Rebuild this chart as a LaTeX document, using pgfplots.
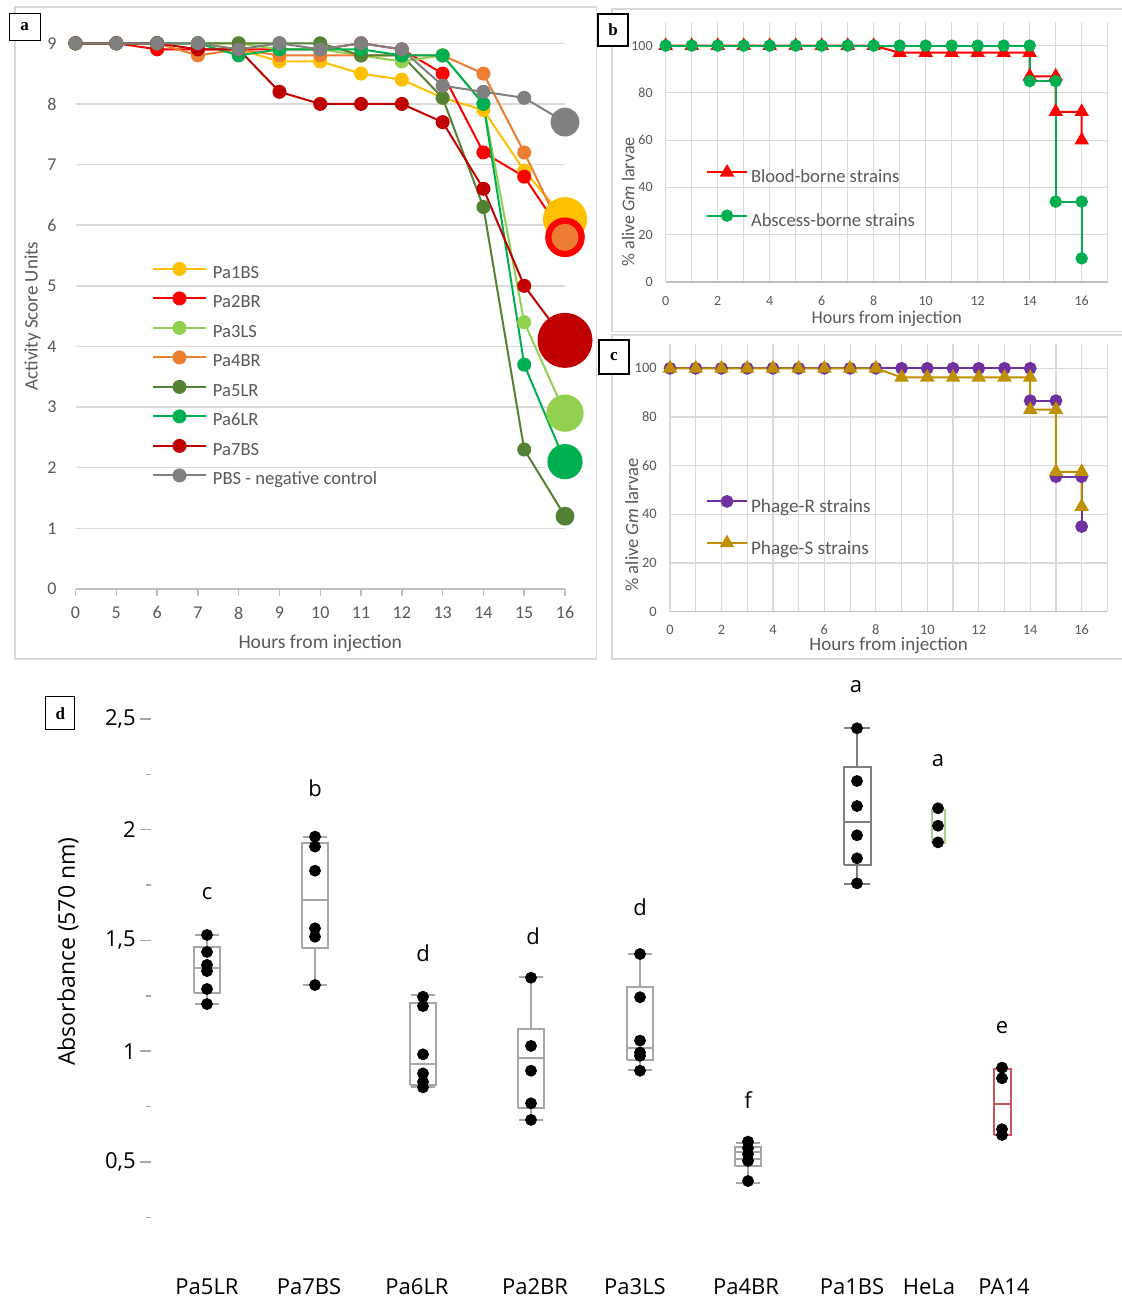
\documentclass[border=0pt]{standalone}
\usepackage{fontspec}
\usepackage{pgfplots}
\pgfplotsset{compat=1.18}
\setmainfont{Carlito}
\newfontfamily\dfont{Open Sans}
\newfontfamily\labfont{Liberation Serif}
\definecolor{cA1}{HTML}{FFC000}
\definecolor{cA2}{HTML}{FF0000}
\definecolor{cA3}{HTML}{92D050}
\definecolor{cA4}{HTML}{ED7D31}
\definecolor{cA5}{HTML}{548235}
\definecolor{cA6}{HTML}{00B050}
\definecolor{cA7}{HTML}{C00000}
\definecolor{cA8}{HTML}{808080}
\definecolor{cB1}{HTML}{FF0000}
\definecolor{cB2}{HTML}{00B050}
\definecolor{cC1}{HTML}{7030A0}
\definecolor{cC2}{HTML}{BF9000}
\definecolor{txt}{HTML}{595959}
\definecolor{gridc}{HTML}{D9D9D9}
\definecolor{axc}{HTML}{BFBFBF}
\definecolor{boxg}{HTML}{A6A6A6}
\definecolor{boxdg}{HTML}{7F7F7F}
\definecolor{boxgr}{HTML}{A9D18E}
\definecolor{boxr}{HTML}{C9545E}
\pgfplotsset{
  exstyle/.style={
    scale only axis,
    /pgf/number format/assume math mode=true,
    tick label style={text=txt},
    label style={text=txt},
    clip=false,
  },
}
\begin{document}
\begin{tikzpicture}
\useasboundingbox (0pt,0pt) rectangle (560.5pt,649.5pt);
\fill[white] (0pt,0pt) rectangle (560.5pt,649.5pt);
\draw[gridc, line width=0.75pt] (7.5pt,320pt) rectangle (298.3pt,646pt);
\draw[gridc, line width=0.75pt] (305.9pt,483.7pt) rectangle (565pt,645pt);
\draw[gridc, line width=0.75pt] (305.9pt,320pt) rectangle (565pt,482pt);

% ---------------- panel a ----------------
\begin{axis}[exstyle,
  at={(37.75pt,355pt)}, anchor=south west,
  width=244.75pt, height=272.85pt,
  xmin=0, xmax=12, ymin=0, ymax=9,
  axis x line=bottom, axis y line=left,
  x axis line style={axc, line width=0.75pt, -},
  y axis line style={draw=none},
  xtick={0,...,12}, xticklabels={0,5,6,7,8,9,10,11,12,13,14,15,16},
  ytick={0,...,9},
  ymajorgrids, grid style={gridc, line width=0.75pt},
  tick align=outside, major tick length=3.5pt,
  xtick style={axc, line width=0.75pt},
  ytick style={draw=none},
  tick label style={font=\fontsize{9}{10}\selectfont},
  xticklabel style={anchor=center, inner sep=0pt, yshift=-8.5pt},
  yticklabel style={anchor=east, inner sep=0pt, xshift=-5.75pt},
  xlabel={Hours from injection}, ylabel={Activity Score Units},
  xlabel style={at={(axis description cs:0.5,-0.0989)}, anchor=center, font=\fontsize{9.8}{11}\selectfont},
  ylabel style={at={(axis description cs:-0.0876,0.5)}, anchor=center, font=\fontsize{9.5}{11}\selectfont},
  legend cell align=left,
  legend style={at={(axis cs:1.875,5.423)}, anchor=north west, draw=none, fill=none,
    inner sep=0pt, outer sep=0pt, row sep=0pt, column sep=3pt,
    font=\fontsize{9.3}{10}\selectfont, text=txt,
    nodes={inner sep=0pt, text height=9pt, text depth=5.75pt}},
  legend image code/.code={\draw[mark repeat=2,mark phase=2,#1] plot coordinates {(0pt,3pt) (13.25pt,3pt) (26.5pt,3pt)};},
  every axis plot/.append style={line width=1pt, mark=*, mark size=3pt, mark options={solid}},
]
\addplot[color=cA1] coordinates {(0,9)(1,9)(2,9)(3,9)(4,8.9)(5,8.7)(6,8.7)(7,8.5)(8,8.4)(9,8.1)(10,7.9)(11,6.9)(12,6.1)};
\addplot[color=cA2] coordinates {(0,9)(1,9)(2,8.9)(3,8.9)(4,8.9)(5,8.9)(6,8.9)(7,9.0)(8,8.9)(9,8.5)(10,7.2)(11,6.8)(12,5.8)};
\addplot[color=cA3] coordinates {(0,9)(1,9)(2,9)(3,9)(4,9)(5,8.9)(6,8.9)(7,8.8)(8,8.7)(9,8.8)(10,8.0)(11,4.4)(12,2.9)};
\addplot[color=cA4] coordinates {(0,9)(1,9)(2,9)(3,8.8)(4,8.9)(5,8.8)(6,8.8)(7,8.8)(8,8.8)(9,8.8)(10,8.5)(11,7.2)(12,5.8)};
\addplot[color=cA5] coordinates {(0,9)(1,9)(2,9)(3,9)(4,9)(5,9)(6,9)(7,8.8)(8,8.8)(9,8.1)(10,6.3)(11,2.3)(12,1.2)};
\addplot[color=cA6] coordinates {(0,9)(1,9)(2,9)(3,9)(4,8.8)(5,8.9)(6,8.9)(7,8.9)(8,8.8)(9,8.8)(10,8.0)(11,3.7)(12,2.1)};
\addplot[color=cA7] coordinates {(0,9)(1,9)(2,9)(3,8.9)(4,8.9)(5,8.2)(6,8.0)(7,8.0)(8,8.0)(9,7.7)(10,6.6)(11,5.0)(12,4.1)};
\addplot[color=cA8] coordinates {(0,9)(1,9)(2,9)(3,9)(4,8.9)(5,9)(6,8.9)(7,9)(8,8.9)(9,8.3)(10,8.2)(11,8.1)(12,7.7)};
\legend{Pa1BS,Pa2BR,Pa3LS,Pa4BR,Pa5LR,Pa6LR,Pa7BS,PBS - negative control}
\addplot[forget plot, only marks, color=cA1, mark size=10.5pt] coordinates {(12,6.1)};
\addplot[forget plot, only marks, color=cA2, mark size=9.4pt] coordinates {(12,5.8)};
\addplot[forget plot, only marks, color=cA4, mark size=6.25pt] coordinates {(12,5.8)};
\addplot[forget plot, only marks, color=cA7, mark size=13.25pt] coordinates {(12,4.1)};
\addplot[forget plot, only marks, color=cA3, mark size=8.8pt] coordinates {(12,2.9)};
\addplot[forget plot, only marks, color=cA6, mark size=8.3pt] coordinates {(12,2.1)};
\addplot[forget plot, only marks, color=cA5, mark size=4.2pt] coordinates {(12,1.2)};
\addplot[forget plot, only marks, color=cA8, mark size=6.7pt] coordinates {(12,7.7)};
\end{axis}

% ---------------- panel b ----------------
\begin{axis}[exstyle,
  at={(332.85pt,508.5pt)}, anchor=south west,
  width=221pt, height=130pt,
  xmin=0, xmax=17, ymin=0, ymax=110,
  axis x line=bottom, axis y line=left,
  x axis line style={axc, line width=0.75pt, -},
  y axis line style={draw=none},
  xtick={0,2,...,16}, minor xtick={1,3,...,17},
  ytick={0,20,...,100},
  xmajorgrids, xminorgrids, ymajorgrids,
  grid style={gridc, line width=0.6pt},
  minor grid style={gridc, line width=0.6pt},
  major tick length=0pt, minor tick length=0pt,
  tick style={draw=none},
  tick label style={font=\fontsize{7}{8}\selectfont},
  xticklabel style={anchor=center, inner sep=0pt, yshift=-9.5pt},
  yticklabel style={anchor=east, inner sep=0pt, xshift=-6.35pt},
  xlabel={Hours from injection}, ylabel={\% alive \textit{Gm} larvae},
  xlabel style={at={(axis description cs:0.5,-0.1423)}, anchor=center, font=\fontsize{9}{10}\selectfont},
  ylabel style={at={(axis description cs:-0.085,0.308)}, anchor=center, font=\fontsize{9}{10}\selectfont},
  legend cell align=left,
  legend style={at={(axis cs:1.55,53.0)}, anchor=north west, draw=none, fill=none,
    inner sep=0pt, outer sep=0pt, row sep=0pt, column sep=1.5pt,
    font=\fontsize{9.3}{10}\selectfont, text=txt,
    nodes={inner sep=0pt, text height=13pt, text depth=8.65pt}},
  legend image code/.code={\draw[mark repeat=2,mark phase=2,#1] plot coordinates {(0pt,3pt) (10pt,3pt) (20pt,3pt)};},
  every axis plot/.append style={line width=1pt, mark options={solid}},
]
\addplot[color=cB1, mark=triangle*, mark size=3.2pt] coordinates {(0,100)(1,100)(2,100)(3,100)(4,100)(5,100)(6,100)(7,100)(8,100)(9,97)(10,97)(11,97)(12,97)(13,97)(14,97)(14,87)(15,87)(15,72)(16,72)(16,60)};
\addplot[color=cB2, mark=*, mark size=2.6pt] coordinates {(0,100)(1,100)(2,100)(3,100)(4,100)(5,100)(6,100)(7,100)(8,100)(9,100)(10,100)(11,100)(12,100)(13,100)(14,100)(14,85)(15,85)(15,34)(16,34)(16,10)};
\legend{Blood-borne strains,Abscess-borne strains}
\end{axis}

% ---------------- panel c ----------------
\begin{axis}[exstyle,
  at={(335pt,343.65pt)}, anchor=south west,
  width=218.7pt, height=133.85pt,
  xmin=0, xmax=17, ymin=0, ymax=110,
  axis x line=bottom, axis y line=left,
  x axis line style={axc, line width=0.75pt, -},
  y axis line style={draw=none},
  xtick={0,2,...,16}, minor xtick={1,3,...,17},
  ytick={0,20,...,100},
  xmajorgrids, xminorgrids, ymajorgrids,
  grid style={gridc, line width=0.6pt},
  minor grid style={gridc, line width=0.6pt},
  major tick length=0pt, minor tick length=0pt,
  tick style={draw=none},
  tick label style={font=\fontsize{7.2}{8}\selectfont},
  xticklabel style={anchor=center, inner sep=0pt, yshift=-9pt},
  yticklabel style={anchor=east, inner sep=0pt, xshift=-6.5pt},
  xlabel={Hours from injection}, ylabel={\% alive \textit{Gm} larvae},
  xlabel style={at={(axis description cs:0.5,-0.1247)}, anchor=center, font=\fontsize{9.5}{10}\selectfont},
  ylabel style={at={(axis description cs:-0.0876,0.324)}, anchor=center, font=\fontsize{9.3}{10}\selectfont},
  legend cell align=left,
  legend style={at={(axis cs:1.40,51.4)}, anchor=north west, draw=none, fill=none,
    inner sep=0pt, outer sep=0pt, row sep=0pt, column sep=1.5pt,
    font=\fontsize{9.6}{10}\selectfont, text=txt,
    nodes={inner sep=0pt, text height=13pt, text depth=7.8pt}},
  legend image code/.code={\draw[mark repeat=2,mark phase=2,#1] plot coordinates {(0pt,3pt) (10pt,3pt) (20pt,3pt)};},
  every axis plot/.append style={line width=1pt, mark options={solid}},
]
\addplot[color=cC1, mark=*, mark size=2.7pt] coordinates {(0,100)(1,100)(2,100)(3,100)(4,100)(5,100)(6,100)(7,100)(8,100)(9,100)(10,100)(11,100)(12,100)(13,100)(14,100)(14,86.7)(15,86.7)(15,55.5)(16,55.5)(16,35)};
\addplot[color=cC2, mark=triangle*, mark size=3.2pt] coordinates {(0,100)(1,100)(2,100)(3,100)(4,100)(5,100)(6,100)(7,100)(8,100)(9,96.3)(10,96.3)(11,96.3)(12,96.3)(13,96.3)(14,96.3)(14,83)(15,83)(15,57.5)(16,57.5)(16,43.2)};
\legend{Phage-R strains,Phage-S strains}
\end{axis}

% ---------------- panel d ----------------
\begin{axis}[scale only axis, clip=false,
  at={(75.5pt,35.275pt)}, anchor=south west,
  width=454.5pt, height=276.875pt,
  xmin=151, xmax=1060, ymin=0.2, ymax=2.7,
  axis x line=bottom, axis y line=left, axis line style={draw=none},
  ytick={0.5,1,1.5,2,2.5}, yticklabels={{0,5},1,{1,5},2,{2,5}},
  minor ytick={0.25,0.75,1.25,1.75,2.25},
  tick align=outside, major tick length=5.5pt, minor tick length=2.5pt,
  ytick style={color=boxg, line width=0.75pt},
  xtick={207,309,417,535,635,746,852,929,1004},
  xticklabels={Pa5LR,Pa7BS,Pa6LR,Pa2BR,Pa3LS,Pa4BR,Pa1BS,HeLa,PA14},
  xtick style={draw=none},
  tick label style={font=\dfont\fontsize{11}{13}\selectfont, text=black},
  xticklabel style={anchor=center, inner sep=0pt, yshift=-23.8pt},
  yticklabel style={anchor=east, inner sep=0pt, xshift=-2pt},
  ylabel={Absorbance (570 nm)},
  ylabel style={at={(axis description cs:-0.0913,0.5)}, anchor=center, font=\dfont\fontsize{11.5}{13}\selectfont},
  unbounded coords=jump,
]
% boxes: box outline, median, whiskers, caps
\addplot[boxg, line width=1pt, mark=none] coordinates {(194,1.263)(220,1.263)(220,1.471)(194,1.471)(194,1.263) (nan,nan) (194,1.376)(220,1.376) (nan,nan) (207,1.471)(207,1.525) (nan,nan) (195,1.525)(219,1.525) (nan,nan) (207,1.263)(207,1.213) (nan,nan) (195,1.213)(219,1.213)};
\addplot[boxg, line width=1pt, mark=none] coordinates {(302,1.467)(328,1.467)(328,1.939)(302,1.939)(302,1.467) (nan,nan) (302,1.683)(328,1.683) (nan,nan) (315,1.939)(315,1.966) (nan,nan) (303,1.966)(327,1.966) (nan,nan) (315,1.467)(315,1.299) (nan,nan) (303,1.299)(327,1.299)};
\addplot[boxg, line width=1pt, mark=none] coordinates {(410,0.848)(436,0.848)(436,1.216)(410,1.216)(410,0.848) (nan,nan) (410,0.941)(436,0.941) (nan,nan) (423,1.216)(423,1.254) (nan,nan) (411,1.254)(435,1.254) (nan,nan) (411,0.84)(435,0.84)};
\addplot[boxg, line width=1pt, mark=none] coordinates {(518,0.745)(544,0.745)(544,1.100)(518,1.100)(518,0.745) (nan,nan) (518,0.971)(544,0.971) (nan,nan) (531,1.100)(531,1.337) (nan,nan) (519,1.337)(543,1.337) (nan,nan) (531,0.745)(531,0.690) (nan,nan) (519,0.690)(543,0.690)};
\addplot[boxg, line width=1pt, mark=none] coordinates {(627,0.960)(653,0.960)(653,1.289)(627,1.289)(627,0.960) (nan,nan) (627,1.013)(653,1.013) (nan,nan) (640,1.289)(640,1.439) (nan,nan) (628,1.439)(652,1.439) (nan,nan) (640,0.960)(640,0.915) (nan,nan) (628,0.915)(652,0.915)};
\addplot[boxg, line width=1pt, mark=none] coordinates {(735,0.482)(761,0.482)(761,0.569)(735,0.569)(735,0.482) (nan,nan) (735,0.513)(761,0.513) (nan,nan) (735,0.544)(761,0.544) (nan,nan) (748,0.569)(748,0.587) (nan,nan) (736,0.587)(760,0.587) (nan,nan) (748,0.482)(748,0.407) (nan,nan) (736,0.407)(760,0.407)};
\addplot[boxdg, line width=1pt, mark=none] coordinates {(843.5,1.841)(870.5,1.841)(870.5,2.282)(843.5,2.282)(843.5,1.841) (nan,nan) (843.5,2.036)(870.5,2.036) (nan,nan) (857,2.282)(857,2.458) (nan,nan) (844,2.458)(870,2.458) (nan,nan) (857,1.841)(857,1.755) (nan,nan) (844,1.755)(870,1.755)};
\addplot[boxgr, line width=1pt, mark=none] coordinates {(931.5,1.942)(944.5,1.942)(944.5,2.089)(931.5,2.089)(931.5,1.942) (nan,nan) (931.5,2.017)(944.5,2.017)};
\addplot[boxr, line width=1pt, mark=none] coordinates {(993.5,0.622)(1010.5,0.622)(1010.5,0.918)(993.5,0.918)(993.5,0.622) (nan,nan) (993.5,0.762)(1010.5,0.762)};
\addplot[only marks, mark=*, mark size=2.75pt, color=black] coordinates {
(207,1.525)(207,1.448)(207,1.39)(207,1.362)(207,1.281)(207,1.213)
(315,1.969)(315,1.924)(315,1.815)(315,1.555)(315,1.517)(315,1.299)
(423,1.246)(423,1.204)(423,0.986)(423,0.90)(423,0.862)(423,0.837)
(531,1.332)(531,1.024)(531,0.912)(531,0.765)(531,0.690)
(640,1.439)(640,1.244)(640,1.048)(640,0.994)(640,0.979)(640,0.912)
(748,0.592)(748,0.562)(748,0.536)(748,0.505)(748,0.414)
(857,2.458)(857,2.220)(857,2.107)(857,1.975)(857,1.871)(857,1.758)
(938,2.097)(938,2.018)(938,1.943)
(1002,0.926)(1002,0.878)(1002,0.648)(1002,0.622)};
\begin{scope}[every node/.style={font=\dfont\fontsize{11}{13}\selectfont, anchor=base, inner sep=0pt}]
\node at (axis cs:207,1.683) {c};
\node at (axis cs:315,2.149) {b};
\node at (axis cs:423,1.404) {d};
\node at (axis cs:533,1.480) {d};
\node at (axis cs:640,1.611) {d};
\node at (axis cs:748,0.742) {f};
\node at (axis cs:856,2.619) {a};
\node at (axis cs:938,2.285) {a};
\node at (axis cs:1002,1.078) {e};
\end{scope}
\end{axis}

% panel labels
\begin{scope}[every node/.style={draw=black, line width=0.6pt, fill=white, inner sep=0pt, font=\labfont\bfseries\fontsize{8.5}{9}\selectfont}]
\node[minimum width=15.5pt, minimum height=13.5pt] at (12.35pt,636pt) {a};
\node[minimum width=15pt, minimum height=16pt] at (306.5pt,634.5pt) {b};
\node[minimum width=15pt, minimum height=17pt] at (307pt,471pt) {c};
\node[minimum width=14.5pt, minimum height=16.5pt] at (30.15pt,292.8pt) {d};
\end{scope}
\end{tikzpicture}
\end{document}
